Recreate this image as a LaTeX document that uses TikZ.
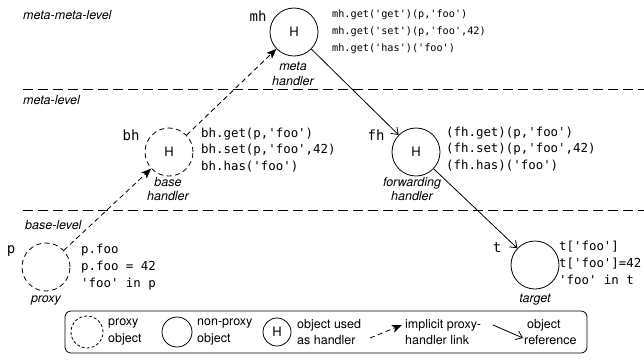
\documentclass[tikz,border=0pt]{standalone}
\usepackage{fontspec}
\setsansfont{TeX Gyre Heros}
\setmonofont{DejaVu Sans Mono}
\usetikzlibrary{arrows.meta}
\begin{document}
\begin{tikzpicture}[x=1pt,y=-1pt,
  obj/.style={circle,draw,line width=0.8pt,minimum size=48pt,inner sep=0pt,font=\sffamily\fontsize{13}{13}\selectfont},
  pobj/.style={obj,dash pattern=on 5pt off 3.5pt},
  code/.style={font=\ttfamily\fontsize{12.4}{16.8}\selectfont,align=left,anchor=west,inner sep=0pt},
  mcode/.style={code,font=\ttfamily\fontsize{10.2}{17}\selectfont},
  lvl/.style={font=\sffamily\itshape\fontsize{12.5}{14}\selectfont,anchor=west,inner sep=0pt},
  capt/.style={font=\sffamily\itshape\fontsize{12.5}{14.5}\selectfont,align=center,inner sep=0pt},
  nm/.style={font=\ttfamily\fontsize{14}{14}\selectfont,inner sep=0pt},
  sepline/.style={dash pattern=on 10pt off 5pt,line width=0.8pt},
  link/.style={line width=0.8pt,dash pattern=on 5pt off 3.5pt,-{Stealth[length=10pt,width=8pt,inset=2.5pt]}},
  ref/.style={line width=0.8pt,-{Straight Barb[length=6pt,width=9pt]}},
  leg/.style={font=\sffamily\fontsize{12.5}{16.5}\selectfont,align=left,anchor=west,inner sep=0pt}
]
\useasboundingbox (0,0) rectangle (644,360);

% level separators
\coordinate (s1a) at (23,89); \coordinate (s1b) at (644,89);
\coordinate (s2a) at (23,210); \coordinate (s2b) at (644,210);
\draw[sepline] (s1a) -- (s1b);
\draw[sepline] (s2a) -- (s2b);
\node[lvl] (l1) at (23,15) {meta-meta-level};
\node[lvl] (l2) at (23,100) {meta-level};
\node[lvl] (l3) at (25,225) {base-level};

% objects
\node[obj] (mh) at (294,32) {H};
\node[pobj] (bh) at (169,152) {H};
\node[obj] (fh) at (416,152) {H};
\node[pobj] (p) at (46,267) {};
\node[obj] (t) at (535,265) {};

% names
\node[nm] (mhn) at (258,16) {mh};
\node[nm] (bhn) at (131,135) {bh};
\node[nm] (fhn) at (376,135) {fh};
\node[nm] (pn) at (11,251) {p};
\node[nm] (tn) at (497,248) {t};

% captions
\node[capt] (mhc) at (293,74) {meta\\handler};
\node[capt] (bhc) at (168,189) {base\\handler};
\node[capt] (fhc) at (412,189) {forwarding\\handler};
\node[capt] (pc) at (46,300) {proxy};
\node[capt] (tc) at (535,300) {target};

% code
\node[mcode] (mhcode) at (332,32) {mh.get('get')(p,'foo')\\mh.get('set')(p,'foo',42)\\mh.get('has')('foo')};
\node[code] (bhcode) at (201,150) {bh.get(p,'foo')\\bh.set(p,'foo',42)\\bh.has('foo')};
\node[code] (fhcode) at (446,149) {(fh.get)(p,'foo')\\(fh.set)(p,'foo',42)\\(fh.has)('foo')};
\node[code] (pcode) at (81,267) {p.foo\\p.foo = 42\\'foo' in p};
\node[code] (tcode) at (559,263) {t['foo']\\t['foo']=42\\'foo' in t};

% connectors
\draw[link] (p) -- (bh);
\draw[link] (bh) -- (mh);
\draw[ref] (mh) -- (fh);
\draw[ref] (fh) -- (t);

% legend
\draw[line width=0.8pt,rounded corners=6pt] (65,311) rectangle (587,353);
\node[obj,dash pattern=on 3pt off 2pt,minimum size=32pt] (lg1) at (87,332) {};
\node[leg] (lg1t) at (108,332) {proxy\\object};
\node[obj,minimum size=30pt] (lg2) at (177,332) {};
\node[leg] (lg2t) at (197,332) {non-proxy\\object};
\node[obj,minimum size=28pt] (lg3) at (277,332) {H};
\node[leg] (lg3t) at (297,332) {object used\\as handler};
\coordinate (la1) at (370,338); \coordinate (la2) at (402,325);
\draw[link] (la1) -- (la2);
\node[leg] (lg4t) at (405,332) {implicit proxy-\\handler link};
\coordinate (lb1) at (493,325); \coordinate (lb2) at (523,338);
\draw[ref] (lb1) -- (lb2);
\node[leg] (lg5t) at (524,332) {\hspace*{3pt}object\\reference};
\end{tikzpicture}
\end{document}
